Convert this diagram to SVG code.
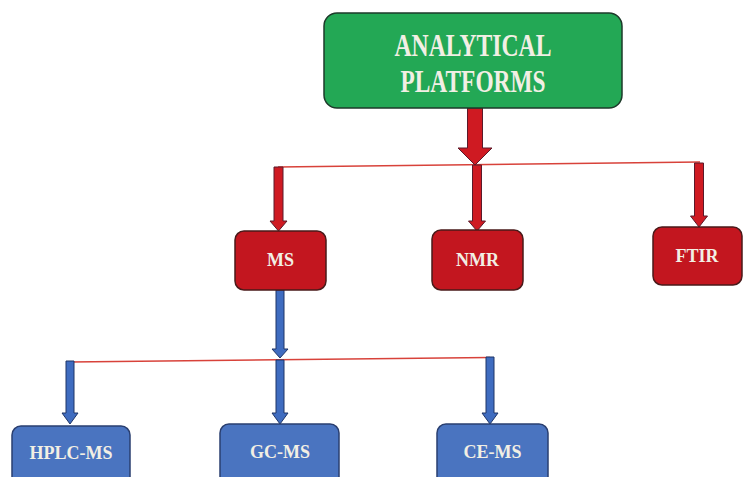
<svg xmlns="http://www.w3.org/2000/svg" width="743" height="477" viewBox="0 0 743 477">
<style>
.green{fill:#23a855;stroke:#1d3a2a;stroke-width:1.5}
.red{fill:#c3161f;stroke:#4a1a1a;stroke-width:1.5}
.blue{fill:#4a74c0;stroke:#2a3f70;stroke-width:1.5}
.ra{fill:#cf1a22;stroke:#5a1a2a;stroke-width:1}
.ba{fill:#3f6cc0;stroke:#1f3566;stroke-width:1}
.line{stroke:#d8423a;stroke-width:1.5;fill:none}
.t{font-family:"Liberation Serif","DejaVu Serif",serif;font-weight:bold;fill:#f2efe4;text-anchor:middle}
</style>
<rect width="743" height="477" fill="#ffffff"/>
<g id="connectors">
<line class="line" x1="278" y1="167" x2="700" y2="162"/>
<line class="line" x1="70" y1="362" x2="490" y2="357.5"/>
<polygon class="ra" points="467.5,108 482.5,108 482.5,148 492,148 475,165 458,148 467.5,148"/>
<polygon class="ra" points="274,167 283,167 283,221 287,221 278.5,231 270,221 274,221"/>
<polygon class="ra" points="472.5,165 481.5,165 481.5,221 485.5,221 477,231 468.5,221 472.5,221"/>
<polygon class="ra" points="694.5,163 703.5,163 703.5,216 707.5,216 699,227 690.5,216 694.5,216"/>
<polygon class="ba" points="276,290 284,290 284,349 288,349 280,358 272,349 276,349"/>
<polygon class="ba" points="276,360 284,360 284,413 288,413 280,424 272,413 276,413"/>
<polygon class="ba" points="66,361 74,361 74,413 78,413 70,424 62,413 66,413"/>
<polygon class="ba" points="486,357 494,357 494,413 498,413 490,424 482,413 486,413"/>
</g>
<g id="analytical-platforms">
<rect class="green" x="324" y="13" width="298" height="95" rx="13"/>
<text class="t" x="473" y="56" font-size="32" textLength="157" lengthAdjust="spacingAndGlyphs">ANALYTICAL</text>
<text class="t" x="473" y="92" font-size="32" textLength="145" lengthAdjust="spacingAndGlyphs">PLATFORMS</text>
</g>
<g id="ms">
<rect class="red" x="235" y="231" width="91" height="59" rx="9"/>
<text class="t" x="280.5" y="266" font-size="18">MS</text>
</g>
<g id="nmr">
<rect class="red" x="432" y="230" width="91" height="60" rx="9"/>
<text class="t" x="477.5" y="266" font-size="18">NMR</text>
</g>
<g id="ftir">
<rect class="red" x="653" y="227" width="89" height="58" rx="9"/>
<text class="t" x="697" y="262" font-size="18">FTIR</text>
</g>
<g id="hplc-ms">
<rect class="blue" x="12" y="426" width="118" height="60" rx="9"/>
<text class="t" x="71" y="459" font-size="18">HPLC-MS</text>
</g>
<g id="gc-ms">
<rect class="blue" x="220" y="424" width="119" height="62" rx="9"/>
<text class="t" x="280" y="458" font-size="18">GC-MS</text>
</g>
<g id="ce-ms">
<rect class="blue" x="437" y="424" width="111" height="62" rx="9"/>
<text class="t" x="492.5" y="458" font-size="18">CE-MS</text>
</g>
</svg>
